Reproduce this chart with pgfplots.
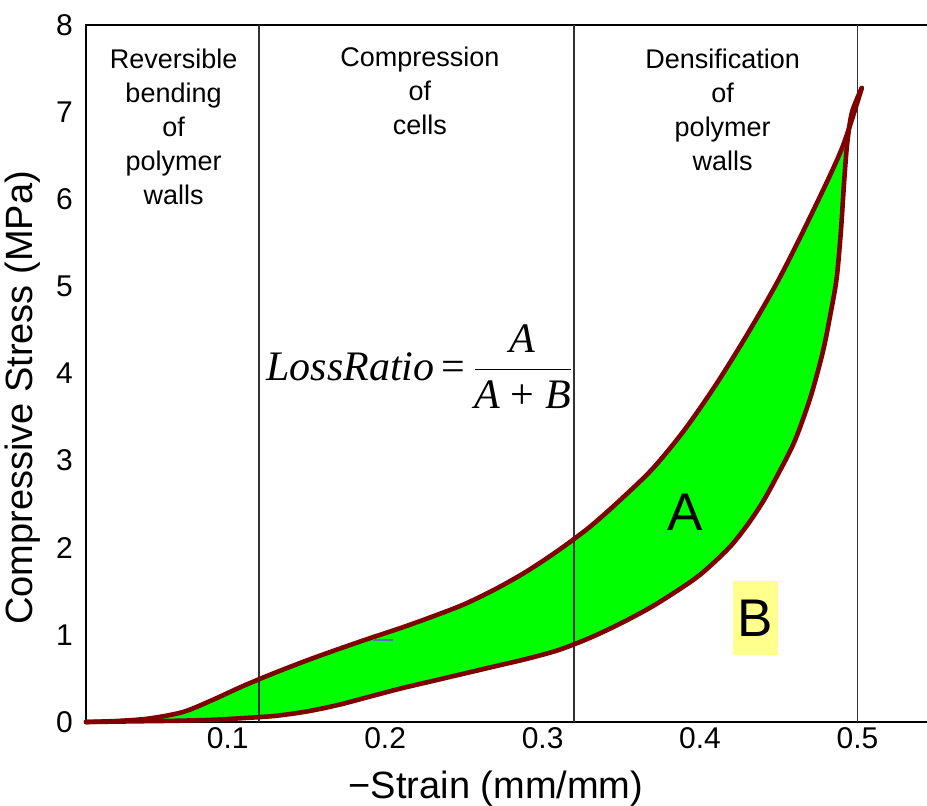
\documentclass[border=0pt]{standalone}
\usepackage{fontspec}
\setmainfont{Liberation Sans}
\newfontfamily\timesfont{Liberation Serif}
\usepackage{pgfplots}
\pgfplotsset{compat=1.18}
\usepgfplotslibrary{fillbetween}
\definecolor{curve}{RGB}{128,0,0}
\definecolor{fillg}{RGB}{0,255,0}
\definecolor{ybox}{RGB}{255,255,140}
\definecolor{vline}{RGB}{50,50,50}
\definecolor{blueseg}{RGB}{90,110,190}

\pgfplotstableread{
x y
0.0100 0.000
0.0300 0.012
0.0500 0.040
0.0716 0.115
0.0900 0.250
0.1100 0.415
0.1300 0.565
0.1500 0.705
0.1700 0.835
0.1900 0.960
0.2100 1.080
0.2300 1.210
0.2500 1.350
0.2700 1.525
0.2900 1.730
0.3100 1.970
0.3300 2.240
0.3500 2.560
0.3700 2.910
0.3900 3.350
0.4100 3.870
0.4300 4.450
0.4500 5.080
0.4700 5.800
0.4900 6.580
0.5027 7.277
}\uppertab

\pgfplotstableread{
x y
0.0100 0.000
0.0300 0.005
0.0500 0.010
0.0700 0.015
0.0900 0.025
0.1100 0.045
0.1300 0.070
0.1500 0.120
0.1700 0.195
0.1900 0.290
0.2100 0.385
0.2300 0.470
0.2500 0.555
0.2700 0.640
0.2900 0.725
0.3100 0.825
0.3300 0.965
0.3500 1.135
0.3700 1.330
0.3900 1.560
0.4000 1.690
0.4100 1.850
0.4200 2.030
0.4300 2.260
0.4400 2.530
0.4500 2.860
0.4600 3.220
0.4700 3.720
0.4780 4.250
0.4830 4.700
0.4868 5.100
0.4895 5.650
0.4915 6.200
0.4935 6.650
0.4965 7.000
0.5027 7.277
}\lowertab

\begin{document}
\begin{tikzpicture}
\begin{axis}[
  at={(0,0)}, anchor=south west,
  scale only axis, width=433pt, height=348.5pt,
  xmin=0.01, xmax=0.56, ymin=0, ymax=8,
  xtick={0.1,0.2,0.3,0.4,0.5},
  xticklabels={0.1,0.2,0.3,0.4,0.5},
  ytick={0,1,2,3,4,5,6,7,8},
  major tick length=0pt,
  axis line style={black, line width=1pt},
  /pgf/number format/assume math mode=true,
  ticklabel style={font=\fontsize{15}{18}\selectfont},
  yticklabel style={xshift=-3pt},
  xticklabel style={yshift=1pt},
  clip=false,
]
\addplot[vline, line width=0.7pt] coordinates {(0.12,0) (0.12,8)};
\addplot[vline, line width=0.7pt] coordinates {(0.32,0) (0.32,8)};
\addplot[vline, line width=0.7pt] coordinates {(0.50,0) (0.50,8)};

\addplot[name path=U, draw=none, smooth, tension=0.5] table {\uppertab};
\addplot[name path=L, draw=none, smooth, tension=0.5] table {\lowertab};
\addplot[fillg] fill between[of=U and L];
\addplot[curve, line width=2.3pt, smooth, tension=0.5, line cap=round, line join=round] table {\uppertab};
\addplot[curve, line width=2.3pt, smooth, tension=0.5, line cap=round, line join=round] table {\lowertab};
\addplot[blueseg, line width=0.8pt] coordinates {(0.1922,0.94) (0.205,0.94)};

\node[anchor=north, align=center, inner sep=0pt, font=\fontsize{13.5}{17}\selectfont]
  at (axis cs:0.0656,7.73) {Reversible\\bending\\of\\polymer\\walls};
\node[anchor=north, align=center, inner sep=0pt, font=\fontsize{13.5}{17}\selectfont]
  at (axis cs:0.222,7.75) {Compression\\of\\cells};
\node[anchor=north, align=center, inner sep=0pt, font=\fontsize{13.5}{17}\selectfont]
  at (axis cs:0.4144,7.73) {Densification\\of\\polymer\\walls};

\node[inner sep=0pt, font=\fontsize{21}{24}\selectfont\timesfont]
  at (axis cs:0.222,4.08)
  {$\displaystyle\mbox{\textit{LossRatio}\,=\,}\frac{\mbox{\textit{A}}}{\mbox{\textit{A} + \textit{B}}}$};

\node[font=\fontsize{26.5}{30}\selectfont, inner sep=0pt]
  at (axis cs:0.3903,2.41) {A};
\node[font=\fontsize{26.5}{30}\selectfont, fill=ybox, inner sep=0pt,
  minimum width=22.5pt, minimum height=37pt]
  at (axis cs:0.4351,1.194) {B};
\end{axis}
\node[rotate=90, anchor=base, font=\fontsize{19}{22}\selectfont]
  at (-26.5pt,162pt) {Compressive Stress (MPa)};
\node[anchor=base, font=\fontsize{19}{22}\selectfont]
  at (205pt,-38pt) {−Strain (mm/mm)};
\pgfresetboundingbox
\path (-43pt,-41.5pt) rectangle (420.5pt,361pt);
\end{tikzpicture}
\end{document}
